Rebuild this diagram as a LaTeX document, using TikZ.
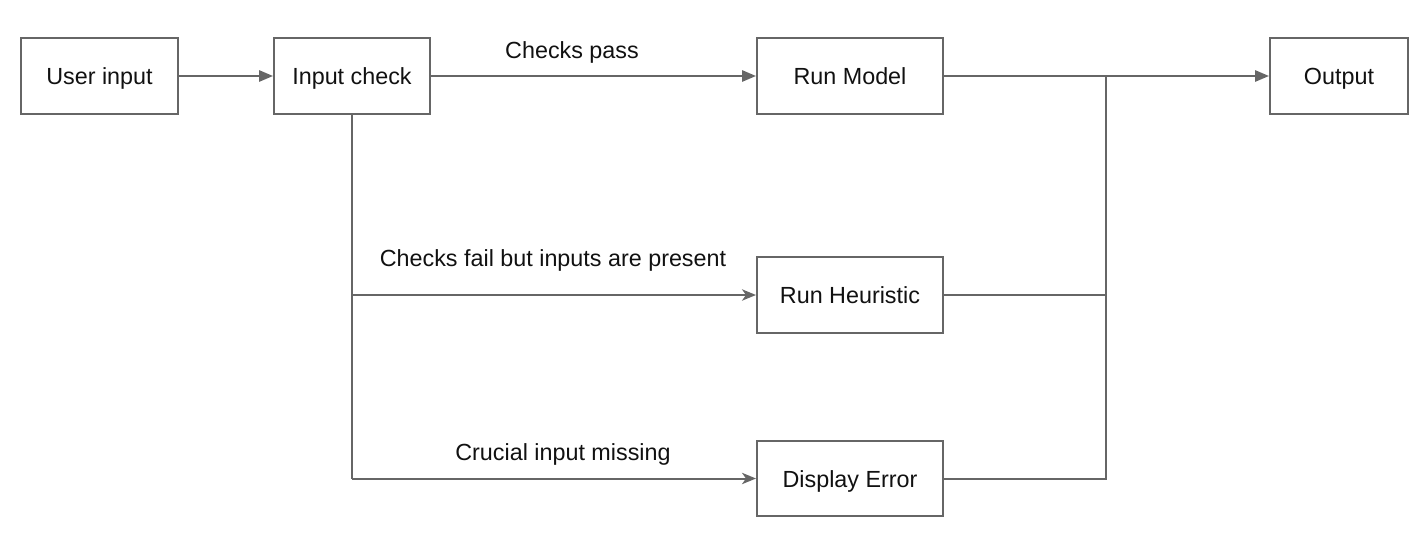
\documentclass[tikz,border=0pt]{standalone}
\usepackage{fontspec}
\setmainfont{Liberation Sans}
\usetikzlibrary{arrows.meta}
\definecolor{linegray}{HTML}{666666}
\definecolor{txt}{HTML}{111111}
\begin{document}
\begin{tikzpicture}[x=0.75pt,y=-0.75pt,
  box/.style={draw=linegray,line width=1.5pt,fill=white,minimum width=#1*0.75pt,minimum height=56.5pt,inner sep=0pt,text height=15pt,text depth=2pt,font=\fontsize{17.5}{20}\selectfont,text=txt},
  box/.default=156,
  conn/.style={draw=linegray,line width=1.5pt},
  arr/.style={conn,-{Triangle[length=10.5pt,width=8.5pt]}},
  arrs/.style={conn,-{Stealth[length=10.5pt,width=8.5pt,inset=3pt]}},
  lbl/.style={font=\fontsize{17.5}{20}\selectfont,text=txt,anchor=base,inner sep=0pt}]
\useasboundingbox (0,0) rectangle (1422,554);
\node[box=157] (user) at (99.5,76) {User input};
\node[box=156] (check) at (352,76) {Input check};
\node[box=186] (model) at (850,76) {Run Model};
\node[box=138] (out) at (1339,76) {Output};
\node[box=186] (heur) at (850,295) {Run Heuristic};
\node[box=186] (err) at (850,478.5) {Display Error};
\coordinate (split) at (352,478.5);
\coordinate (j1) at (1106,76);
\coordinate (j3) at (1106,478.5);
\draw[arr] (user) -- (check);
\draw[arr] (check) -- (model);
\draw[arr] (model) -- (out);
\draw[conn] (check.south) -- (split);
\draw[arrs] (check.south |- heur.west) -- (heur.west);
\draw[arrs] (split) -- (err.west);
\draw[conn] (heur.east) -- (heur.east -| j1);
\draw[conn] (err.east) -- (j3) -- (j1);
\node[lbl] (l1) at (572,58) {Checks pass};
\node[lbl] (l2) at (553,266) {Checks fail but inputs are present};
\node[lbl] (l3) at (563,460) {Crucial input missing};
\end{tikzpicture}
\end{document}
